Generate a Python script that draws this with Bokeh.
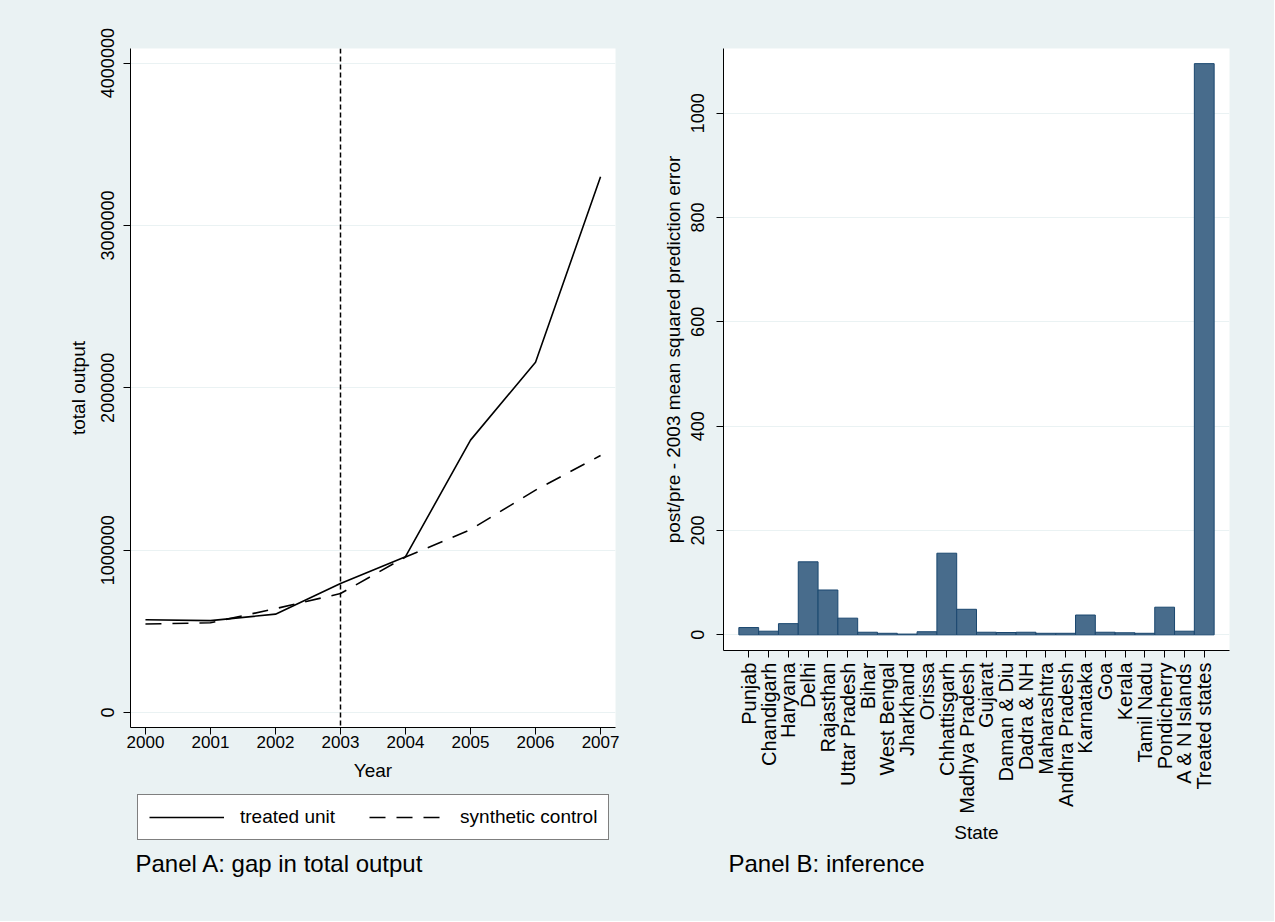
import math
from bokeh.plotting import figure
from bokeh.models import (Range1d, FactorRange, FixedTicker, NumeralTickFormatter,
                          Span, Legend, LegendItem, Label)
from bokeh.layouts import row, column
from bokeh.embed import file_html
from bokeh.resources import INLINE

# ---------------- data ----------------
years = [2000, 2001, 2002, 2003, 2004, 2005, 2006, 2007]
treated_unit = [572000, 566000, 606000, 795000, 960000, 1678000, 2158000, 3300000]
synthetic_control = [545000, 553000, 640000, 733000, 958000, 1127000, 1370000, 1583000]
y_ticks_a = [0, 1000000, 2000000, 3000000, 4000000]
treatment_year = 2003

states = ["Punjab", "Chandigarh", "Haryana", "Delhi", "Rajasthan", "Uttar Pradesh",
          "Bihar", "West Bengal", "Jharkhand", "Orissa", "Chhattisgarh",
          "Madhya Pradesh", "Gujarat", "Daman & Diu", "Dadra & NH", "Maharashtra",
          "Andhra Pradesh", "Karnataka", "Goa", "Kerala", "Tamil Nadu",
          "Pondicherry", "A & N Islands", "Treated states"]
mspe_ratio = [14, 7, 21.5, 140, 86, 32, 5, 3, 1.5, 6, 156.5, 49, 5, 4.5, 5, 3, 3,
              38, 5, 4, 3, 53, 7, 1095]
y_ticks_b = [0, 200, 400, 600, 800, 1000]

# ---------------- style ----------------
BG = "#EAF2F3"
FONT = "Liberation Sans"
AXT_FS = "19px"
SOLID_W = 1.6
DASH = "16 11"


def style_axis(ax, fs):
    ax.axis_line_color = "black"
    ax.axis_line_width = 1
    ax.major_tick_line_color = "black"
    ax.major_tick_out = 7
    ax.major_tick_in = 0
    ax.minor_tick_line_color = None
    ax.major_label_text_font = FONT
    ax.major_label_text_font_size = fs
    ax.major_label_text_color = "black"
    ax.axis_label_text_font = FONT
    ax.axis_label_text_font_size = AXT_FS
    ax.axis_label_text_font_style = "normal"
    ax.axis_label_text_color = "black"


def blank_fig(fw, fh):
    f = figure(frame_width=fw, frame_height=fh, output_backend="svg",
               toolbar_location=None, x_axis_type=None, y_axis_type=None,
               x_range=Range1d(0, 1), y_range=Range1d(0, 1),
               min_border=0, min_border_left=0, min_border_right=0,
               min_border_top=0, min_border_bottom=0,
               background_fill_color=None, border_fill_color=BG,
               outline_line_color=None)
    f.grid.visible = False
    return f


# ---------------- Panel A ----------------
p1 = figure(frame_width=485, frame_height=679, output_backend="svg",
            toolbar_location=None,
            x_range=Range1d(1999.77, 2007.23), y_range=Range1d(-92000, 4090000),
            min_border_left=130, min_border_right=33, min_border_top=48,
            min_border_bottom=63, background_fill_color="white",
            border_fill_color=BG, outline_line_color=None)

r1 = p1.line(years, treated_unit, line_color="black", line_width=SOLID_W)
r2 = p1.line(years, synthetic_control, line_color="black", line_width=SOLID_W,
             line_dash=DASH)
p1.add_layout(Span(location=treatment_year, dimension="height", line_color="black",
                   line_width=1.5, line_dash="5 3"))

p1.xaxis.ticker = FixedTicker(ticks=years)
p1.yaxis.ticker = FixedTicker(ticks=y_ticks_a)
p1.yaxis.formatter = NumeralTickFormatter(format="0")
p1.xaxis.axis_label = "Year"
p1.yaxis.axis_label = "total output"
p1.yaxis.major_label_orientation = "parallel"
style_axis(p1.xaxis[0], "17px")
style_axis(p1.yaxis[0], "18px")
p1.xaxis.major_label_standoff = 1
p1.xaxis.axis_label_standoff = 9
p1.yaxis.major_label_standoff = 9
p1.yaxis.axis_label_standoff = 10
p1.xgrid.visible = False
p1.ygrid.grid_line_color = BG
p1.ygrid.grid_line_width = 1.2

# legend + caption strip under panel A (legend samples: same series, drawn
# outside this strip's visible range so only the legend glyphs show)
pa = blank_fig(648, 131)
la = pa.line(years, treated_unit, line_color="black", line_width=SOLID_W)
lb = pa.line(years, synthetic_control, line_color="black", line_width=SOLID_W,
             line_dash=DASH)
legend = Legend(items=[LegendItem(label="treated unit", renderers=[la]),
                       LegendItem(label="synthetic control", renderers=[lb])],
                orientation="horizontal", location=(137, 81),
                border_line_color="black", border_line_width=1,
                background_fill_color="white", background_fill_alpha=1.0,
                label_text_font=FONT, label_text_font_size="19px",
                label_text_color="black",
                glyph_width=75, glyph_height=20, label_standoff=16,
                label_height=20, spacing=34, padding=11, margin=0)
pa.add_layout(legend, "center")
pa.add_layout(Label(x=5, y=58, x_units="screen", y_units="screen",
                    text="Panel A: gap in total output", text_baseline="middle",
                    text_font=FONT, text_font_size="24px", text_color="black"))

# ---------------- Panel B ----------------
p2 = figure(frame_width=506, frame_height=602, output_backend="svg",
            toolbar_location=None,
            x_range=FactorRange(*states, range_padding=0.775,
                                range_padding_units="absolute"),
            y_range=Range1d(-30, 1124),
            min_border_left=75, min_border_right=45, min_border_top=48,
            min_border_bottom=198, background_fill_color="white",
            border_fill_color=BG, outline_line_color=None)

p2.vbar(x=states, top=mspe_ratio, bottom=0, width=1.0,
        fill_color="#486C8C", line_color="#1A476F", line_width=1)

p2.yaxis.ticker = FixedTicker(ticks=y_ticks_b)
p2.xaxis.axis_label = "State"
p2.yaxis.axis_label = "post/pre - 2003 mean squared prediction error"
p2.yaxis.major_label_orientation = "parallel"
p2.xaxis.major_label_orientation = math.pi / 2
style_axis(p2.xaxis[0], "20px")
style_axis(p2.yaxis[0], "18px")
p2.yaxis.major_label_standoff = 12
p2.yaxis.axis_label_standoff = 5
p2.xaxis.axis_label_standoff = 5
p2.xgrid.visible = False
p2.ygrid.grid_line_color = BG
p2.ygrid.grid_line_width = 1.2

pb = blank_fig(626, 73)
pb.add_layout(Label(x=5, y=58, x_units="screen", y_units="screen",
                    text="Panel B: inference", text_baseline="middle",
                    text_font=FONT, text_font_size="24px", text_color="black"))

layout = row(column(p1, pa), column(p2, pb),
             styles={"background-color": BG})
open("out.html", "w").write(file_html(layout, INLINE))
